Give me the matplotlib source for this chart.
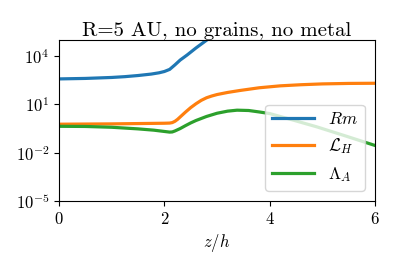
import matplotlib
matplotlib.use('Agg')
import matplotlib.pyplot as plt
import numpy as np
from matplotlib.ticker import NullLocator

plt.rcParams['font.family'] = 'serif'
plt.rcParams['font.serif'] = ['cmr10']
plt.rcParams['mathtext.fontset'] = 'cm'
plt.rcParams['axes.formatter.use_mathtext'] = True
plt.rcParams['axes.unicode_minus'] = False

# values (x in units of z/h, y given as log10)
x_rm = [0, 0.5, 1.0, 1.25, 1.5, 1.75, 1.9, 2.0, 2.1, 2.2, 2.3, 2.43, 2.6, 2.8, 3.0]
log_rm = [2.58, 2.61, 2.67, 2.72, 2.79, 2.88, 2.96, 3.04, 3.17, 3.45, 3.75, 4.06, 4.5, 4.98, 5.45]

x_lh = [0, 1.0, 1.5, 2.0, 2.1, 2.15, 2.2, 2.25, 2.3, 2.4, 2.5, 2.6, 2.7, 2.8, 2.9,
        3.0, 3.2, 3.43, 3.8, 4.2, 4.6, 5.0, 5.5, 6.0]
log_lh = [-0.23, -0.21, -0.19, -0.17, -0.16, -0.13, -0.05, 0.07, 0.22, 0.52, 0.8, 1.04, 1.25, 1.41, 1.52,
          1.61, 1.74, 1.86, 2.03, 2.15, 2.22, 2.27, 2.30, 2.31]

x_la = [0, 0.5, 1.0, 1.5, 1.8, 2.0, 2.1, 2.15, 2.2, 2.3, 2.4, 2.5, 2.6, 2.8, 3.0, 3.2, 3.38,
        3.6, 3.8, 4.0, 4.45, 4.9, 5.45, 6.0]
log_la = [-0.36, -0.37, -0.42, -0.52, -0.6, -0.68, -0.72, -0.71, -0.65, -0.5, -0.32, -0.15, 0.0, 0.25, 0.45,
          0.58, 0.64, 0.62, 0.53, 0.43, 0.02, -0.40, -0.97, -1.55]

fig = plt.figure(figsize=(3.99, 2.66), dpi=100)
ax = fig.add_axes([0.148, 0.244, 0.792, 0.606])

ax.plot(x_rm, 10 ** np.array(log_rm), color='C0', lw=2.3, label=r'$Rm$')
ax.plot(x_lh, 10 ** np.array(log_lh), color='C1', lw=2.3, label=r'$\mathcal{L}_H$')
ax.plot(x_la, 10 ** np.array(log_la), color='C2', lw=2.3, label=r'$\Lambda_A$')

ax.set_yscale('log')
ax.set_xlim(0, 6)
ax.set_ylim(1e-5, 1e5)
ax.set_yticks([1e-5, 1e-2, 1e1, 1e4])
ax.yaxis.set_minor_locator(NullLocator())
ax.set_xticks([0, 2, 4, 6])
ax.tick_params(labelsize=12)

ax.set_xlabel(r'$z/h$', fontsize=12)
ax.set_title('R=5 AU, no grains, no metal', fontsize=15, pad=3)
ax.legend(loc='lower right', fontsize=12.5, handlelength=2.4, borderaxespad=0.6)

fig.savefig('out.png', dpi=100)
